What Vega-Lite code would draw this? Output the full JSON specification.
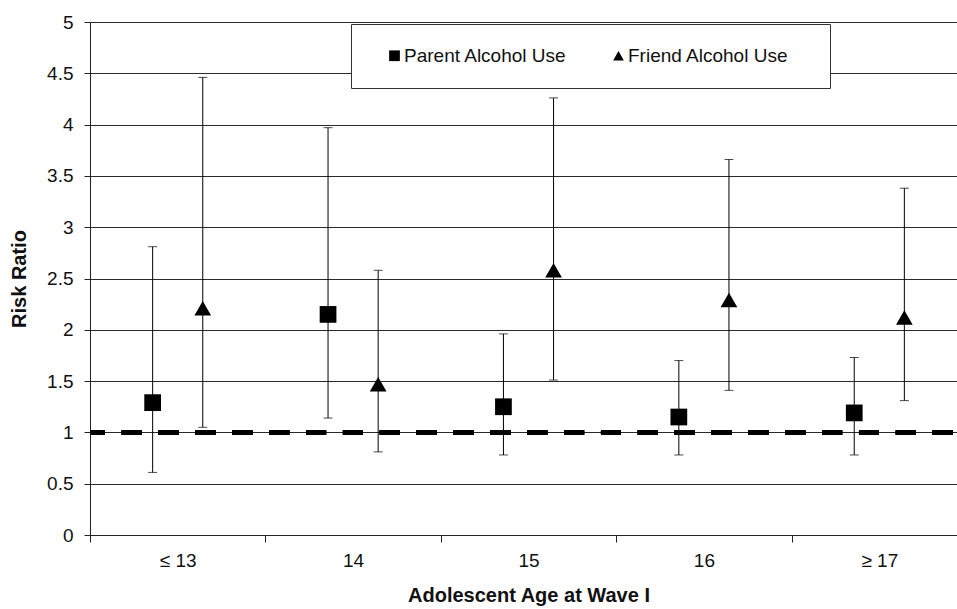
{
  "$schema": "https://vega.github.io/schema/vega-lite/v6.json",
  "width": 867,
  "height": 513,
  "autosize": {"type": "none"},
  "padding": {"left": 90, "top": 22, "right": 0, "bottom": 74},
  "background": "white",
  "config": {
    "font": "Liberation Sans",
    "view": {"stroke": null},
    "axis": {
      "domainColor": "#222222",
      "tickColor": "#222222",
      "labelColor": "#111111",
      "titleColor": "#111111",
      "labelFont": "Liberation Sans",
      "titleFont": "Liberation Sans",
      "labelFontSize": 19,
      "titleFontWeight": "bold"
    }
  },
  "data": {
    "values": [
      {"age": "≤ 13", "group": "Parent Alcohol Use", "rr": 1.29, "lo": 0.61, "hi": 2.81},
      {"age": "≤ 13", "group": "Friend Alcohol Use", "rr": 2.21, "lo": 1.05, "hi": 4.46},
      {"age": "14", "group": "Parent Alcohol Use", "rr": 2.15, "lo": 1.14, "hi": 3.97},
      {"age": "14", "group": "Friend Alcohol Use", "rr": 1.47, "lo": 0.81, "hi": 2.58},
      {"age": "15", "group": "Parent Alcohol Use", "rr": 1.25, "lo": 0.78, "hi": 1.96},
      {"age": "15", "group": "Friend Alcohol Use", "rr": 2.58, "lo": 1.51, "hi": 4.26},
      {"age": "16", "group": "Parent Alcohol Use", "rr": 1.15, "lo": 0.78, "hi": 1.70},
      {"age": "16", "group": "Friend Alcohol Use", "rr": 2.29, "lo": 1.41, "hi": 3.66},
      {"age": "≥ 17", "group": "Parent Alcohol Use", "rr": 1.19, "lo": 0.78, "hi": 1.73},
      {"age": "≥ 17", "group": "Friend Alcohol Use", "rr": 2.12, "lo": 1.31, "hi": 3.38}
    ]
  },
  "layer": [
    {
      "encoding": {
        "x": {
          "field": "age",
          "type": "nominal",
          "sort": ["≤ 13", "14", "15", "16", "≥ 17"],
          "scale": {"range": [0, 877], "paddingInner": 0, "paddingOuter": 0},
          "axis": {
            "title": "Adolescent Age at Wave I",
            "titleFontSize": 20,
            "titlePadding": 15,
            "labelFontSize": 19,
            "labelAngle": 0,
            "tickBand": "extent",
            "tickSize": 7,
            "labelPadding": 9,
            "grid": false
          }
        },
        "xOffset": {
          "field": "group",
          "type": "nominal",
          "sort": ["Parent Alcohol Use", "Friend Alcohol Use"],
          "scale": {"paddingInner": 0, "paddingOuter": 0.75}
        }
      },
      "layer": [
        {
          "mark": {"type": "rule", "color": "black", "strokeWidth": 1},
          "encoding": {
            "y": {
              "field": "lo",
              "type": "quantitative",
              "scale": {"domain": [0, 5], "nice": false, "zero": true},
              "axis": {
                "title": "Risk Ratio",
                "titleFontSize": 20,
                "titlePadding": 17,
                "labelFontSize": 19,
                "values": [0, 0.5, 1, 1.5, 2, 2.5, 3, 3.5, 4, 4.5, 5],
                "format": "~g",
                "grid": true,
                "gridColor": "#2a2a2a",
                "gridWidth": 1.1,
                "tickSize": 6,
                "labelPadding": 11
              }
            },
            "y2": {"field": "hi"}
          }
        },
        {
          "mark": {"type": "tick", "color": "black", "size": 9, "thickness": 1},
          "encoding": {"y": {"field": "lo", "type": "quantitative"}}
        },
        {
          "mark": {"type": "tick", "color": "black", "size": 9, "thickness": 1},
          "encoding": {"y": {"field": "hi", "type": "quantitative"}}
        },
        {
          "mark": {"type": "point", "filled": true, "color": "black", "opacity": 1, "size": 280},
          "encoding": {
            "y": {"field": "rr", "type": "quantitative"},
            "shape": {
              "field": "group",
              "type": "nominal",
              "sort": ["Parent Alcohol Use", "Friend Alcohol Use"],
              "scale": {"domain": ["Parent Alcohol Use", "Friend Alcohol Use"], "range": ["square", "triangle-up"]},
              "legend": {
                "orient": "none",
                "legendX": 261,
                "legendY": 2,
                "direction": "horizontal",
                "title": " ",
                "titleOrient": "right",
                "titleFontSize": 19,
                "titlePadding": 19,
                "fillColor": "white",
                "strokeColor": "#333333",
                "padding": 22,
                "labelFont": "Liberation Sans",
                "labelFontSize": 19,
                "labelLimit": 400,
                "labelColor": "#111111",
                "labelOffset": 0,
                "columnPadding": 30,
                "symbolSize": 115,
                "symbolOffset": 12,
                "symbolFillColor": "black",
                "symbolStrokeWidth": 0
              }
            }
          }
        }
      ]
    },
    {
      "mark": {"type": "rule", "color": "black", "strokeWidth": 4.5, "strokeDash": [20, 16.86], "strokeDashOffset": 32.56, "strokeCap": "butt"},
      "encoding": {"y": {"datum": 1, "type": "quantitative"}}
    }
  ]
}
